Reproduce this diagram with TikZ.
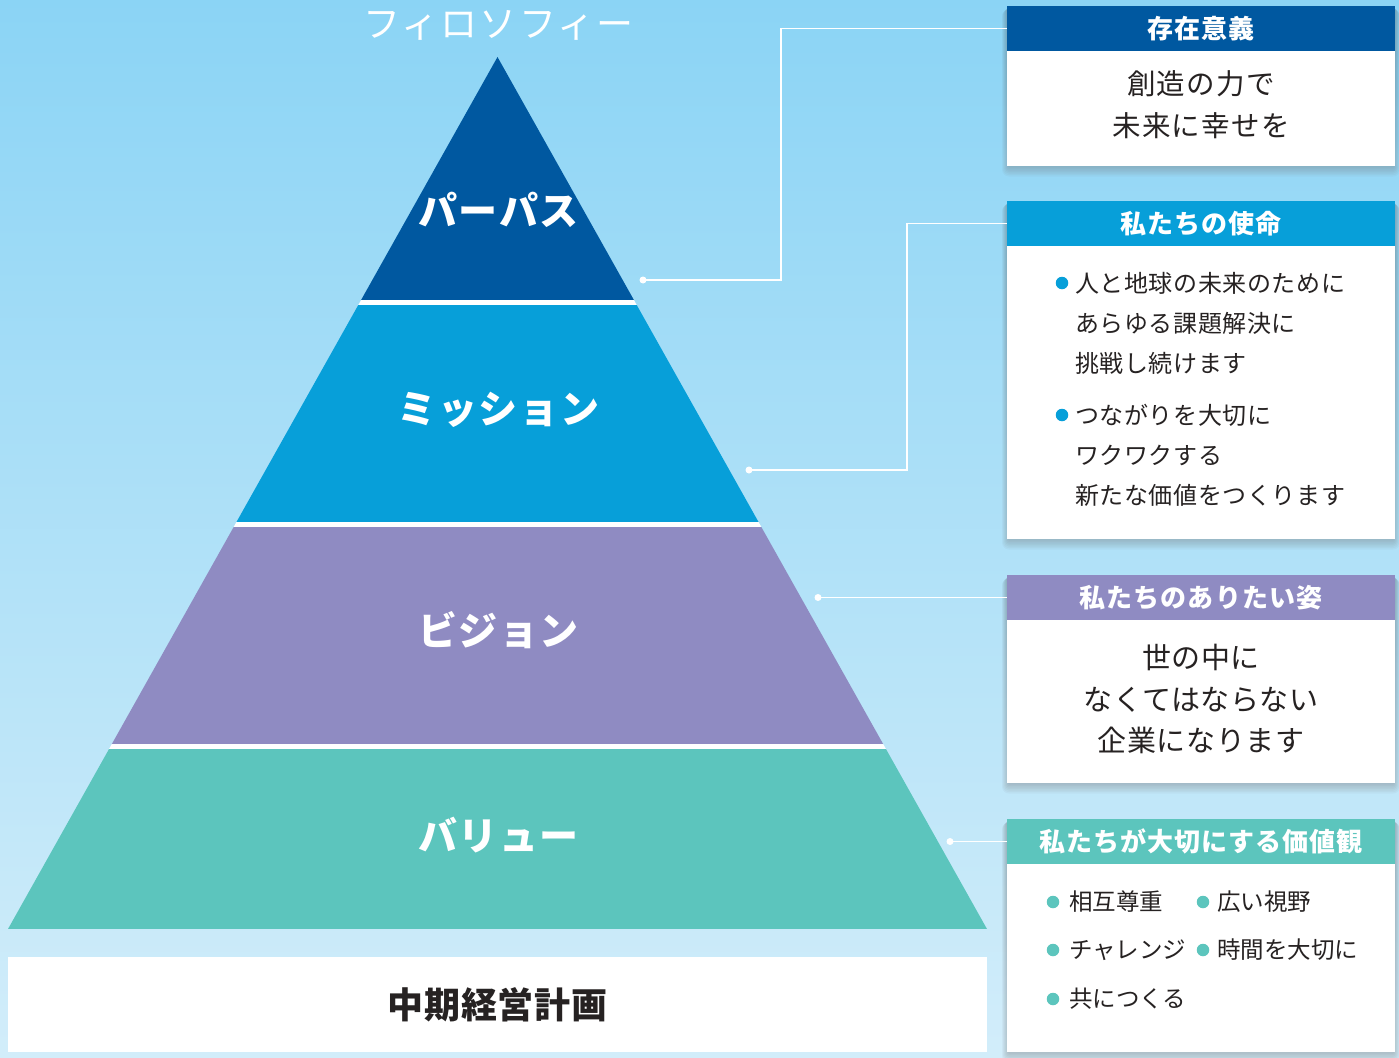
\documentclass[tikz,border=0pt]{standalone}
\usepackage{fontspec}
\setmainfont{Noto Sans CJK JP}
\definecolor{bgtop}{RGB}{139,212,245}
\definecolor{bgbot}{RGB}{210,237,250}
\definecolor{purpose}{RGB}{0,88,160}
\definecolor{mission}{RGB}{7,159,217}
\definecolor{vision}{RGB}{143,139,194}
\definecolor{value}{RGB}{92,197,189}
\definecolor{ink}{RGB}{38,34,34}
\definecolor{shade}{RGB}{20,60,110}
\begin{document}
\begin{tikzpicture}[x=1pt,y=-1pt,
  bandlabel/.style={text=white,font=\fontsize{39}{39}\selectfont\bfseries\addfontfeatures{LetterSpace=4},inner sep=0},
  hdr/.style={fill=#1,text=white,minimum width=388pt,minimum height=45pt,inner sep=0,font=\fontsize{26}{26}\selectfont\bfseries\addfontfeatures{LetterSpace=4}},
  bodybox/.style={fill=white,minimum width=388pt,inner sep=0,anchor=north},
  link/.style={draw=white,line width=1.3pt},
  linkdot/.style={circle,fill=white,inner sep=0,minimum size=7pt},
  bul/.style={circle,fill=#1,inner sep=0,minimum size=12.5pt},
  bodytext/.style={text=ink,inner sep=0},
]
\useasboundingbox (0,0) rectangle (1399,1057);
\fill[top color=bgtop,bottom color=bgbot] (0,0) rectangle (1399,1057);

% pyramid
\begin{scope}
  \clip (497.5,57) -- (987,929) -- (8,929) -- cycle;
  \fill[purpose] (0,40) rectangle (1000,300);
  \fill[white] (0,300) rectangle (1000,305);
  \fill[mission] (0,305) rectangle (1000,522);
  \fill[white] (0,522) rectangle (1000,527);
  \fill[vision] (0,527) rectangle (1000,744);
  \fill[white] (0,744) rectangle (1000,749);
  \fill[value] (0,749) rectangle (1000,929);
\end{scope}

\node[text=white,inner sep=0,font=\fontsize{37}{37}\selectfont\addfontfeatures{LetterSpace=5.5}] (title) at (498.5,25) {フィロソフィー};
\node[bandlabel] (lp) at (498.5,210) {パーパス};
\node[bandlabel] (lm) at (498.5,410) {ミッション};
\node[bandlabel] (lv) at (498.5,630) {ビジョン};
\node[bandlabel] (lval) at (498.5,835) {バリュー};

% bottom box
\node[fill=white,minimum width=979pt,minimum height=95pt,inner sep=0,text=ink,font=\fontsize{36}{36}\selectfont\bfseries\addfontfeatures{LetterSpace=2}] (plan) at (497.5,1004.5) {中期経営計画};

% shadows of right boxes
\foreach \t/\b in {6/166,201/539,575/783,819/1052}{
  \foreach \s in {1,...,7}{
    \fill[shade,opacity=0.03,rounded corners=\s pt] (1009-\s,\t+\s*0.5) rectangle (1393+\s,\b+\s*1.5);
  }
}

% right boxes
\node[hdr=purpose] (h1) at (1201,28.5) {存在意義};
\node[bodybox,minimum height=115pt] (b1) at (h1.south) {};
\node[bodytext,align=center,font=\fontsize{28.5}{42}\selectfont\addfontfeatures{LetterSpace=4.5}] (t1) at (1201,105) {創造の力で\\未来に幸せを};

\node[hdr=mission] (h2) at (1201,223.5) {私たちの使命};
\node[bodybox,minimum height=293pt] (b2) at (h2.south) {};
\node[bul=mission] (m1) at (1062,283) {};
\node[bodytext,anchor=west,align=left,font=\fontsize{24}{40}\selectfont\addfontfeatures{LetterSpace=2.5}] (t2a) at (1075,323) {人と地球の未来のために\\あらゆる課題解決に\\挑戦し続けます};
\node[bul=mission] (m2) at (1062,415) {};
\node[bodytext,anchor=west,align=left,font=\fontsize{24}{40}\selectfont\addfontfeatures{LetterSpace=2.5}] (t2b) at (1075,455) {つながりを大切に\\ワクワクする\\新たな価値をつくります};

\node[hdr=vision] (h3) at (1201,597.5) {私たちのありたい姿};
\node[bodybox,minimum height=163pt] (b3) at (h3.south) {};
\node[bodytext,align=center,font=\fontsize{29}{41.5}\selectfont\addfontfeatures{LetterSpace=2}] (t3) at (1201,699) {世の中に\\なくてはならない\\企業になります};

\node[hdr=value] (h4) at (1201,841.5) {私たちが大切にする価値観};
\node[bodybox,minimum height=188pt] (b4) at (h4.south) {};
\node[bul=value] (v1) at (1053,902) {};
\node[bodytext,anchor=west,font=\fontsize{23.5}{23.5}\selectfont] (tv1) at (1069,902) {相互尊重};
\node[bul=value] (v2) at (1203,902) {};
\node[bodytext,anchor=west,font=\fontsize{23.5}{23.5}\selectfont] (tv2) at (1217,902) {広い視野};
\node[bul=value] (v3) at (1053,950) {};
\node[bodytext,anchor=west,font=\fontsize{23.5}{23.5}\selectfont] (tv3) at (1069,950) {チャレンジ};
\node[bul=value] (v4) at (1203,950) {};
\node[bodytext,anchor=west,font=\fontsize{23.5}{23.5}\selectfont] (tv4) at (1217,950) {時間を大切に};
\node[bul=value] (v5) at (1053,999) {};
\node[bodytext,anchor=west,font=\fontsize{23.5}{23.5}\selectfont] (tv5) at (1069,999) {共につくる};

% connectors
\node[linkdot] (d1) at (643,280) {};
\node[linkdot] (d2) at (749,470) {};
\node[linkdot] (d3) at (818,597.5) {};
\node[linkdot] (d4) at (950,841.5) {};
\draw[link] (d1.center) -- (781,280) |- (h1.west);
\draw[link] (d2.center) -- (907,470) |- (h2.west);
\draw[link] (d3.center) -- (h3.west);
\draw[link] (d4.center) -- (h4.west);
\end{tikzpicture}
\end{document}
